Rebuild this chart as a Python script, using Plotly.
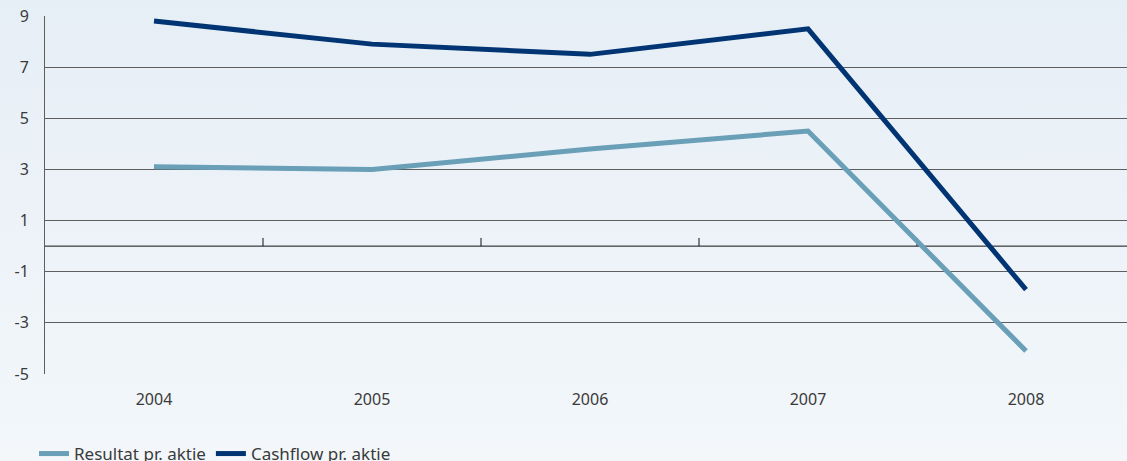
import base64
import plotly.graph_objects as go

years = ["2004", "2005", "2006", "2007", "2008"]
resultat = [3.1, 3.0, 3.8, 4.5, -4.1]
cashflow = [8.8, 7.9, 7.5, 8.5, -1.7]
y_ticks = [-5, -3, -1, 1, 3, 5, 7, 9]
y_tick_text = ["-5", "-3", "-1", "1", "3", "5", "7", "9"]
series_names = ["Resultat pr. aktie", "Cashflow pr. aktie"]
series_colors = ["#6a9fb8", "#003473"]

W, H = 1127, 461
ML, MR, MT, MB = 45, 0, 16, 87

x = list(range(len(years)))
plot_w = W - ML - MR
ph = H - MT - MB
band = 218.0
x_max = plot_w / band - 0.5

fig = go.Figure()
for name, vals, col in zip(series_names, [resultat, cashflow], series_colors):
    fig.add_trace(go.Scatter(x=x, y=vals, mode="lines", name=name,
                             line=dict(color=col, width=5), cliponaxis=False))

# gradient background via svg
svg = ('<svg xmlns="http://www.w3.org/2000/svg" width="10" height="100" preserveAspectRatio="none">'
       '<defs><linearGradient id="g" x1="0" y1="0" x2="0" y2="1">'
       '<stop offset="0" stop-color="#e6eef6"/><stop offset="1" stop-color="#f3f7fa"/>'
       '</linearGradient></defs><rect width="10" height="100" fill="url(#g)"/></svg>')
src = "data:image/svg+xml;base64," + base64.b64encode(svg.encode()).decode()
fig.add_layout_image(dict(source=src, xref="paper", yref="paper",
                          x=-ML / plot_w, y=1 + MT / ph,
                          sizex=W / plot_w, sizey=H / ph,
                          sizing="stretch", layer="below", xanchor="left", yanchor="top"))

# zero line with category separator ticks
shapes = [dict(type="line", xref="paper", yref="y", x0=0, x1=1, y0=0, y1=0,
               line=dict(color="#111", width=1), layer="below")]
for i in range(len(years) - 1):
    shapes.append(dict(type="line", xref="x", yref="y", x0=i + 0.5, x1=i + 0.5,
                       y0=0, y1=0.32, line=dict(color="#111", width=1), layer="below"))
fig.update_layout(shapes=shapes)

fig.update_layout(
    width=W, height=H,
    margin=dict(l=ML, r=MR, t=MT, b=MB, autoexpand=False),
    paper_bgcolor="#f2f6fa",
    plot_bgcolor="rgba(0,0,0,0)",
    font=dict(family="Noto Sans, Open Sans, sans-serif", size=16, color="#3a3a3a"),
    showlegend=True,
    legend=dict(orientation="h", x=(1 - 12) / plot_w, y=-(MB + 11) / ph,
                xanchor="left", yanchor="bottom",
                bgcolor="rgba(0,0,0,0)", font=dict(size=17, color="#3a3a3a"),
                itemwidth=30, tracegroupgap=0),
    xaxis=dict(range=[-0.5, x_max], tickvals=x, ticktext=years, showgrid=False,
               zeroline=False, showline=False, ticks="", ticklabelstandoff=14,
               tickfont=dict(size=16, color="#3a3a3a"), fixedrange=True),
    yaxis=dict(range=[-5, 9], tickvals=y_ticks, ticktext=y_tick_text, showgrid=True,
               gridcolor="#5e5e5e", gridwidth=1, zeroline=False, showline=True,
               linecolor="#5e5e5e", linewidth=1, ticks="", ticklabelstandoff=12,
               tickfont=dict(size=16, color="#3a3a3a"), fixedrange=True),
)

fig.write_html("out.html")
